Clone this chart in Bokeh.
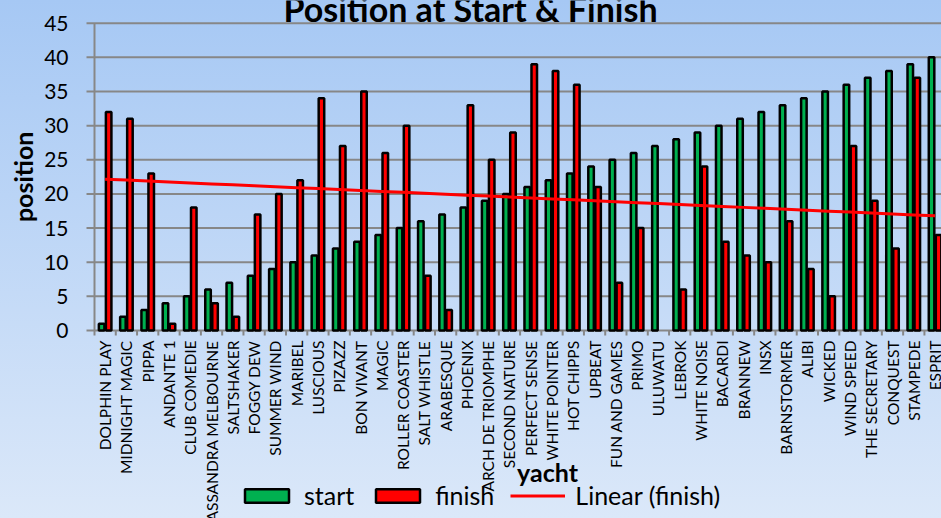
import numpy as np
from bokeh.plotting import figure
from bokeh.models import (Range1d, Legend, LegendItem, Label,
                          ColumnDataSource, GlobalInlineStyleSheet)
from bokeh.embed import file_html
from bokeh.resources import INLINE
from bokeh.core.properties import value

# ---------------- data ----------------
yachts = ["DOLPHIN PLAY", "MIDNIGHT MAGIC", "PIPPA", "ANDANTE 1", "CLUB COMEDIE",
          "CASSANDRA MELBOURNE", "SALTSHAKER", "FOGGY DEW", "SUMMER WIND", "MARIBEL",
          "LUSCIOUS", "PIZAZZ", "BON VIVANT", "MAGIC", "ROLLER COASTER",
          "SALT WHISTLE", "ARABESQUE", "PHOENIX", "ARCH DE TRIOMPHE", "SECOND NATURE",
          "PERFECT SENSE", "WHITE POINTER", "HOT CHIPPS", "UPBEAT", "FUN AND GAMES",
          "PRIMO", "ULUWATU", "LEBROK", "WHITE NOISE", "BACARDI",
          "BRANNEW", "INSX", "BARNSTORMER", "ALIBI", "WICKED",
          "WIND SPEED", "THE SECRETARY", "CONQUEST", "STAMPEDE", "ESPRIT"]
start = [1, 2, 3, 4, 5, 6, 7, 8, 9, 10,
         11, 12, 13, 14, 15, 16, 17, 18, 19, 20,
         21, 22, 23, 24, 25, 26, 27, 28, 29, 30,
         31, 32, 33, 34, 35, 36, 37, 38, 39, 40]
finish = [32, 31, 23, 1, 18, 4, 2, 17, 20, 22,
          34, 27, 35, 26, 30, 8, 3, 33, 25, 29,
          39, 38, 36, 21, 7, 15, 0, 6, 24, 13,
          11, 10, 16, 9, 5, 27, 19, 12, 37, 14]
y_ticks = [0, 5, 10, 15, 20, 25, 30, 35, 40, 45]
y_tick_labels = ["0", "5", "10", "15", "20", "25", "30", "35", "40", "45"]

# ---------------- layout helpers (pixels -> data units) ----------------
W, H = 941, 518
AXIS_X = 94        # pixel column of the value axis
ZERO_PX = 330      # pixel row of value 0
TOP_PX = 22.7      # pixel row of value 45
ppu = (ZERO_PX - TOP_PX) / 45.0          # pixels per position unit
cw = 21.28                               # pixels per category
x_start = -AXIS_X / cw
x_end = (W - AXIS_X) / cw
y_end = 45 + TOP_PX / ppu
y_start = -(H - ZERO_PX) / ppu
LABEL_DY = 12      # correction for Label baseline placement

GRID = "#878787"
GREEN = "#00b050"
RED = "#ff0000"
FONT = "Lato"

n = len(yachts)
centers = np.arange(n) + 0.5
src = ColumnDataSource(dict(
    xs=centers - 0.165, xf=centers + 0.165,
    start=start, finish=finish,
    fa=[1.0 if f > 0 else 0.0 for f in finish],
))

p = figure(width=W, height=H, output_backend="svg", toolbar_location=None,
           x_range=Range1d(x_start, x_end), y_range=Range1d(y_start, y_end),
           min_border_left=0, min_border_right=0, min_border_top=0,
           min_border_bottom=0, x_axis_location=None, y_axis_location=None)
p.outline_line_color = None
p.background_fill_alpha = 0
p.border_fill_alpha = 0
p.grid.visible = False
p.stylesheets = [GlobalInlineStyleSheet(css=(
    "html { background: linear-gradient(to bottom, #a6c8f4 0%, #dbe8f9 100%); "
    "min-height: 100%; }"))]

# horizontal grid lines (extended left as tick marks)
p.segment(x0=[-8 / cw] * len(y_ticks), y0=y_ticks, x1=[x_end] * len(y_ticks), y1=y_ticks,
          line_color=GRID, line_width=2)
# value axis line
p.segment(x0=[0], y0=[y_ticks[0]], x1=[0], y1=[y_ticks[-1]], line_color=GRID, line_width=2)
# value tick labels
p.text(x=[-(AXIS_X - 68) / cw] * len(y_ticks), y=y_ticks, text=y_tick_labels,
       text_align="right", text_baseline="middle",
       text_font=value(FONT), text_font_size="21px", text_color="black")
# value axis title
p.text(x=[-(AXIS_X - 22) / cw], y=[22.5], text=["position"], angle=np.pi / 2,
       text_align="center", text_baseline="middle",
       text_font=value(FONT), text_font_style="bold", text_font_size="25px",
       text_color="black")

# category tick marks at boundaries
bounds = np.arange(n + 1)
p.segment(x0=bounds, y0=0, x1=bounds, y1=-5 / ppu, line_color=GRID, line_width=2)

# bars
gr = p.vbar(x="xs", top="start", bottom=0, width=0.26, source=src,
            fill_color=GREEN, line_color="black", line_width=2.5)
rd = p.vbar(x="xf", top="finish", bottom=0, width=0.26, source=src,
            fill_color=RED, line_color="black", line_width=2.5, line_alpha="fa")

# linear trendline of finish
idx = np.arange(1, n + 1)
k, b = np.polyfit(idx, np.array(finish, dtype=float), 1)
tr = p.line(centers, k * idx + b, line_color=RED, line_width=3)

# category labels (vertical)
p.text(x=centers, y=[-10 / ppu] * n, text=yachts, angle=np.pi / 2,
       text_align="right", text_baseline="middle",
       text_font=value(FONT), text_font_size="15.5px", text_color="black")

# chart title and category axis title
p.add_layout(Label(x=(470 - AXIS_X) / cw, y=(ZERO_PX - 20 + LABEL_DY) / ppu,
                   text="Position at Start & Finish",
                   text_align="center", text_baseline="alphabetic",
                   text_font=FONT, text_font_style="bold", text_font_size="34px",
                   text_color="black"))
p.add_layout(Label(x=(547 - AXIS_X) / cw, y=-(483 - LABEL_DY - ZERO_PX) / ppu,
                   text="yacht",
                   text_align="center", text_baseline="alphabetic",
                   text_font=FONT, text_font_style="bold", text_font_size="25px",
                   text_color="black"))

legend = Legend(items=[LegendItem(label="start", renderers=[gr]),
                       LegendItem(label="finish", renderers=[rd]),
                       LegendItem(label="Linear (finish)", renderers=[tr])],
                location=(239, 8), orientation="horizontal",
                glyph_width=55, glyph_height=17, label_standoff=10, spacing=16,
                padding=0, margin=0, background_fill_alpha=0, border_line_alpha=0,
                label_text_font=FONT, label_text_font_size="25px",
                label_text_color="black")
p.add_layout(legend)

open("out.html", "w").write(file_html(p, INLINE))
